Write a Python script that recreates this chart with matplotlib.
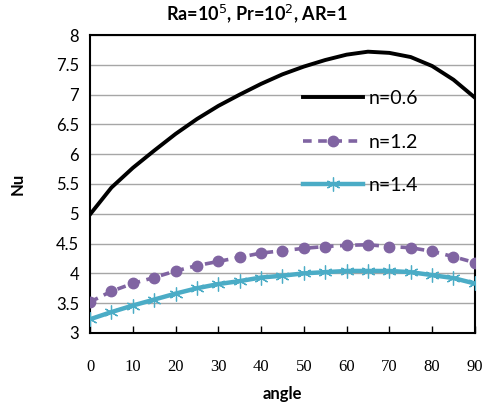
import matplotlib
matplotlib.use('Agg')
import matplotlib.pyplot as plt
import numpy as np

plt.rcParams['font.family'] = ['Lato', 'DejaVu Sans']

angle = [0, 5, 10, 15, 20, 25, 30, 35, 40, 45, 50, 55, 60, 65, 70, 75, 80, 85, 90]
nu_06 = [4.99, 5.44, 5.77, 6.06, 6.34, 6.59, 6.81, 7.00, 7.18, 7.34, 7.47, 7.58,
         7.67, 7.72, 7.70, 7.63, 7.48, 7.25, 6.95]
nu_12 = [3.52, 3.70, 3.83, 3.93, 4.04, 4.13, 4.20, 4.27, 4.34, 4.38, 4.42, 4.45,
         4.47, 4.48, 4.45, 4.43, 4.37, 4.28, 4.18]
nu_14 = [3.23, 3.35, 3.46, 3.56, 3.66, 3.75, 3.82, 3.87, 3.93, 3.96, 4.00, 4.02,
         4.04, 4.04, 4.04, 4.02, 3.97, 3.92, 3.83]
labels = ['n=0.6', 'n=1.2', 'n=1.4']
xticks = [0, 10, 20, 30, 40, 50, 60, 70, 80, 90]
yticks = [3, 3.5, 4, 4.5, 5, 5.5, 6, 6.5, 7, 7.5, 8]

fig = plt.figure(figsize=(4.87, 4.07), dpi=100)
ax = fig.add_axes([0.185, 0.182, 0.79, 0.732])

# asterisk marker like excel's star
star = (6, 2, 0)

ax.plot(angle, nu_06, color='black', lw=2.8, label=labels[0], zorder=3)
ax.plot(angle, nu_12, color='#8064A2', lw=2.6, ls=(0, (2.4, 1.8)), marker='o',
        markersize=7.5, label=labels[1], zorder=3)
ax.plot(angle, nu_14, color='#4BACC6', lw=3.2, marker=star, markersize=10,
        markeredgewidth=0.9, label=labels[2], zorder=3)

ax.set_xlim(0, 90)
ax.set_ylim(3, 8)
ax.set_xticks(xticks)
ax.set_yticks(yticks)
ax.set_yticklabels([('%g' % v) for v in yticks], fontsize=12)
ax.set_xticklabels([str(v) for v in xticks], fontsize=12, family='Liberation Serif')
ax.tick_params(axis='x', direction='in', length=5, width=1, pad=19)
ax.tick_params(axis='y', length=0, pad=8)
ax.yaxis.grid(True, color='#a6a6a6', lw=1)
ax.set_axisbelow(True)
for s in ax.spines.values():
    s.set_linewidth(1.5)

ax.set_xlabel('angle', fontsize=12, fontweight='bold', labelpad=8)
ax.set_ylabel('Nu', fontsize=12, fontweight='bold', labelpad=22)
fig.text(0.528, 0.966, 'Ra=10$^5$, Pr=10$^2$, AR=1', fontsize=13, fontweight='bold',
         ha='center', va='center')

ax.legend(loc='upper left', bbox_to_anchor=(0.553, 0.815), frameon=False,
          fontsize=14, handlelength=3.1, handletextpad=0.3, labelspacing=1.36,
          numpoints=1, borderpad=0, borderaxespad=0)

fig.savefig('out.png', dpi=100)
